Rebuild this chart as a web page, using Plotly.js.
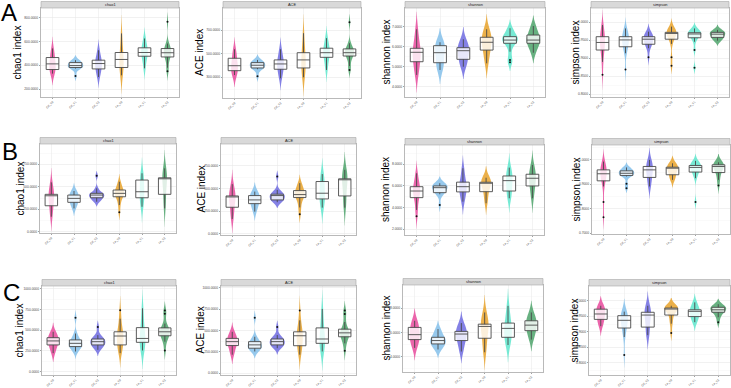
<!DOCTYPE html>
<html>
<head>
<meta charset="utf-8">
<script src="https://cdn.plot.ly/plotly-3.0.1.min.js"></script>
<style>
  html, body { margin: 0; padding: 0; background: #ffffff; }
  #chart { width: 731px; height: 388px; }
</style>
</head>
<body>
<div id="chart"></div>
<script>
// Treatment groups and their colours
const groups = ['CK_T0', 'CK_T1', 'CK_T2', 'FA_T0', 'FA_T1', 'FA_T2'];
const groupColors = ['#e84a9c', '#84bfea', '#6e6be0', '#e8a22a', '#5ee6cc', '#4da36b'];
const metrics = ['chao1', 'ACE', 'shannon', 'simpson'];
const rowLetters = ['A', 'B', 'C'];

// Alpha-diversity values per sample, one list per group (row A)
const chao1_A = [
  [331, 352, 365, 390, 412, 438, 465, 500, 541],
  [311, 373, 378, 382, 388, 394, 398, 405, 414, 423, 430, 437, 443],
  [303, 342, 370, 392, 415, 430, 443, 480, 526],
  [317, 350, 382, 415, 449, 478, 507, 585, 666],
  [375, 430, 476, 492, 507, 526, 546, 585, 624],
  [350, 380, 440, 470, 482, 495, 505, 515, 528, 540, 558, 582, 763]
];
const ACE_A = [
  [319, 338, 356, 378, 398, 430, 461, 500, 537],
  [308, 368, 374, 379, 386, 395, 402, 408, 416, 424, 432, 440, 447],
  [292, 330, 368, 390, 413, 430, 447, 490, 537],
  [300, 340, 379, 412, 447, 478, 508, 590, 673],
  [362, 415, 469, 490, 508, 526, 546, 590, 631],
  [362, 395, 450, 480, 490, 500, 508, 518, 530, 540, 555, 588, 766]
];
const shannon_A = [
  [4.59, 4.95, 5.25, 5.50, 5.72, 5.82, 5.92, 6.40, 6.87],
  [4.84, 5.00, 5.20, 5.45, 5.70, 5.90, 6.05, 6.15, 6.22],
  [5.00, 5.20, 5.37, 5.60, 5.80, 5.88, 5.95, 6.15, 6.37],
  [5.17, 5.50, 5.83, 6.05, 6.22, 6.35, 6.47, 6.65, 6.87],
  [5.22, 5.33, 5.75, 6.17, 6.22, 6.28, 6.33, 6.38, 6.44, 6.50, 6.62, 6.78, 6.92],
  [5.70, 5.95, 6.17, 6.25, 6.33, 6.45, 6.58, 6.80, 7.03]
];
const simpson_A = [
  [0.854, 0.890, 0.905, 0.923, 0.930, 0.938, 0.944, 0.950, 0.955, 0.960, 0.970, 0.982, 0.9925],
  [0.869, 0.914, 0.924, 0.932, 0.938, 0.945, 0.951, 0.955, 0.958, 0.960, 0.968, 0.976, 0.983],
  [0.903, 0.928, 0.934, 0.939, 0.944, 0.949, 0.953, 0.956, 0.958, 0.960, 0.965, 0.970, 0.974],
  [0.879, 0.903, 0.940, 0.953, 0.958, 0.964, 0.969, 0.970, 0.971, 0.972, 0.978, 0.983, 0.988],
  [0.874, 0.923, 0.946, 0.957, 0.961, 0.964, 0.9675, 0.969, 0.970, 0.971, 0.975, 0.979, 0.983],
  [0.949, 0.953, 0.958, 0.962, 0.967, 0.969, 0.972, 0.975, 0.979]
];

// Row B
const chao1_B = [
  [167, 230, 289, 350, 400, 408, 416, 480, 549],
  [260, 300, 327, 350, 371, 390, 408, 430, 453],
  [334, 350, 365, 378, 390, 400, 408, 415, 421, 427, 445, 483, 623],
  [216, 297, 350, 389, 400, 415, 427, 440, 452, 464, 490, 520, 556],
  [278, 330, 378, 410, 445, 510, 575, 610, 650],
  [260, 340, 416, 520, 594, 598, 600, 650, 705]
];
const ACE_B = [
  [163, 230, 292, 360, 410, 414, 417, 480, 547],
  [244, 290, 332, 352, 373, 398, 421, 445, 465],
  [348, 360, 368, 373, 390, 405, 421, 426, 431, 436, 455, 484, 631],
  [215, 290, 340, 399, 410, 420, 432, 445, 460, 476, 505, 530, 558],
  [288, 335, 384, 415, 447, 510, 576, 615, 658],
  [288, 350, 417, 520, 602, 604, 606, 660, 705]
];
const shannon_B = [
  [3.20, 3.78, 4.40, 4.92, 5.15, 5.35, 5.53, 5.70, 5.82, 5.93, 6.30, 6.75, 7.17],
  [4.24, 5.23, 5.30, 5.38, 5.55, 5.70, 5.84, 5.90, 5.95, 6.00, 6.10, 6.18, 6.25],
  [4.55, 5.00, 5.45, 5.70, 5.93, 6.15, 6.35, 7.00, 7.63],
  [4.40, 5.00, 5.47, 6.00, 6.30, 6.32, 6.34, 6.55, 6.76],
  [4.86, 5.20, 5.53, 6.00, 6.49, 6.70, 6.92, 7.30, 7.69],
  [4.86, 5.45, 6.00, 6.35, 6.71, 6.90, 7.08, 7.50, 7.94]
];
const simpson_B = [
  [0.765, 0.827, 0.891, 0.914, 0.925, 0.935, 0.943, 0.948, 0.954, 0.959, 0.970, 0.982, 0.993],
  [0.884, 0.902, 0.932, 0.936, 0.939, 0.942, 0.945, 0.948, 0.952, 0.955, 0.960, 0.965, 0.969],
  [0.891, 0.910, 0.928, 0.945, 0.959, 0.966, 0.973, 0.987, 1.000],
  [0.918, 0.930, 0.939, 0.955, 0.966, 0.968, 0.970, 0.978, 0.986],
  [0.827, 0.925, 0.940, 0.950, 0.957, 0.963, 0.969, 0.972, 0.975, 0.977, 0.983, 0.990, 0.996],
  [0.895, 0.918, 0.935, 0.948, 0.958, 0.966, 0.973, 0.975, 0.978, 0.980, 0.984, 0.987, 0.990]
];

// Row C
const chao1_C = [
  [224, 280, 323, 350, 371, 390, 410, 445, 481],
  [244, 270, 290, 303, 318, 330, 342, 352, 368, 383, 420, 460, 649],
  [264, 290, 310, 323, 335, 350, 362, 372, 385, 394, 415, 441, 540],
  [224, 270, 300, 323, 360, 400, 430, 450, 465, 481, 560, 638, 740],
  [256, 300, 354, 380, 401, 470, 531, 650, 764],
  [256, 362, 400, 433, 450, 468, 481, 495, 512, 528, 579, 697, 737]
];
const ACE_C = [
  [215, 270, 322, 345, 368, 388, 406, 445, 483],
  [253, 270, 282, 291, 305, 318, 330, 342, 355, 368, 395, 425, 647],
  [291, 305, 318, 330, 345, 358, 368, 380, 390, 399, 420, 445, 540],
  [215, 262, 295, 320, 370, 410, 437, 455, 470, 483, 550, 617, 732],
  [253, 300, 348, 375, 399, 460, 529, 640, 751],
  [261, 348, 390, 425, 440, 458, 471, 485, 500, 514, 598, 693, 732]
];
const shannon_C = [
  [4.71, 5.10, 5.40, 5.60, 5.81, 6.10, 6.41, 6.70, 6.96],
  [4.58, 4.85, 5.04, 5.20, 5.32, 5.45, 5.59, 5.95, 6.27],
  [4.41, 4.90, 5.32, 5.60, 5.86, 5.97, 6.08, 6.45, 6.77],
  [4.35, 4.90, 5.51, 6.20, 6.49, 6.58, 6.68, 7.20, 7.65],
  [4.95, 5.30, 5.59, 5.95, 6.33, 6.55, 6.77, 7.50, 8.20],
  [5.40, 5.80, 6.14, 6.40, 6.60, 6.80, 6.96, 7.30, 7.65]
];
const simpson_C = [
  [0.918, 0.930, 0.940, 0.950, 0.9575, 0.966, 0.973, 0.979, 0.984],
  [0.825, 0.883, 0.900, 0.912, 0.920, 0.930, 0.937, 0.942, 0.948, 0.952, 0.956, 0.961, 0.965],
  [0.889, 0.900, 0.915, 0.940, 0.954, 0.959, 0.963, 0.975, 0.984],
  [0.896, 0.926, 0.940, 0.954, 0.965, 0.972, 0.9756, 0.976, 0.9762, 0.9766, 0.979, 0.982, 0.984],
  [0.931, 0.940, 0.949, 0.958, 0.966, 0.969, 0.971, 0.985, 0.995],
  [0.931, 0.947, 0.955, 0.963, 0.966, 0.969, 0.971, 0.974, 0.977, 0.979, 0.983, 0.986, 0.989]
];

const panelData = [
  chao1_A, ACE_A, shannon_A, simpson_A,
  chao1_B, ACE_B, shannon_B, simpson_B,
  chao1_C, ACE_C, shannon_C, simpson_C
];

// ---- panel geometry (pixels in a 731 x 388 figure) ----
const W = 731, H = 388, STRIP = 6.5;
const panelX = [
  [41, 179], [223, 361], [405, 545], [591, 729],
  [40, 176], [221, 356], [405, 544], [592, 730],
  [42, 176], [221, 356], [403, 543], [589, 730]
];
const panelY = [
  [8, 97], [8, 98], [8, 97], [8, 97],
  [144, 233], [144, 235], [145, 235], [145, 234],
  [286, 375], [286, 375], [285, 372], [286, 375]
];
const yRanges = [
  [136, 878], [125, 886], [3.49, 7.93], [0.7925, 1.0397],
  [-14, 976], [-14, 990], [1.47, 9.78], [0.696, 1.061],
  [-39, 1032], [-23, 1020], [2.71, 9.93], [0.76, 1.048]
];
const yTick0 = [0, 100, 0, 0, 0, 0, 0, 0, 0, 0, 0, 0];
const yDtick = [200, 200, 1, 0.05, 250, 250, 2, 0.1, 250, 250, 2, 0.05];
const titleX = [17, 200, 386, 575, 20, 201, 385, 576, 19, 200, 386, 574];
const letterPos = [[9, 13], [10, 152], [11, 292]];

const FONT = 'Liberation Sans, Arial, sans-serif';
const traces = [];
const layout = {
  width: W, height: H,
  margin: { l: 0, r: 0, t: 0, b: 0 },
  paper_bgcolor: '#ffffff',
  plot_bgcolor: '#ffffff',
  showlegend: false,
  violinmode: 'overlay',
  boxmode: 'overlay',
  violingap: 0.04,
  font: { family: FONT, color: '#222' },
  shapes: [],
  annotations: []
};

panelData.forEach((groupSamples, p) => {
  const s = p === 0 ? '' : String(p + 1);
  const [px0, px1] = panelX[p];
  const [py0, py1] = panelY[p];

  groupSamples.forEach((vals, g) => {
    const xs = vals.map(() => groups[g]);
    traces.push({
      type: 'violin', x: xs, y: vals,
      xaxis: 'x' + s, yaxis: 'y' + s,
      fillcolor: groupColors[g], opacity: 0.85,
      line: { color: groupColors[g], width: 0 },
      points: false, box: { visible: false }, meanline: { visible: false },
      scalegroup: 'panel' + p, scalemode: 'width', spanmode: 'soft',
      hoverinfo: 'skip'
    });
    traces.push({
      type: 'box', x: xs, y: vals,
      xaxis: 'x' + s, yaxis: 'y' + s,
      width: 0.55, quartilemethod: 'inclusive',
      fillcolor: 'rgba(255,255,255,0.8)',
      line: { color: '#4a4a4a', width: 0.9 },
      whiskerwidth: 0,
      boxpoints: 'outliers', jitter: 0, pointpos: 0,
      marker: { color: '#111111', size: 2, line: { width: 0 } },
      hoverinfo: 'skip'
    });
  });

  layout['xaxis' + s] = {
    domain: [px0 / W, px1 / W], anchor: 'y' + s,
    type: 'category', categoryorder: 'array', categoryarray: groups,
    range: [-0.5, 5.5],
    showgrid: true, gridcolor: '#ebebeb', gridwidth: 0.6,
    showline: true, mirror: true, linecolor: '#a8a8a8', linewidth: 0.8,
    ticks: 'outside', ticklen: 1.5, tickwidth: 0.5, tickcolor: '#444',
    ticklabelstandoff: -1.5,
    tickangle: -45, tickfont: { size: 2.9, color: '#4d4d4d' },
    zeroline: false, fixedrange: true
  };
  layout['yaxis' + s] = {
    domain: [1 - py1 / H, 1 - py0 / H], anchor: 'x' + s,
    range: yRanges[p], tickmode: 'linear', tick0: yTick0[p], dtick: yDtick[p],
    tickformat: '.4f',
    showgrid: true, gridcolor: '#e8e8e8', gridwidth: 0.6,
    minor: { dtick: yDtick[p] / 2, showgrid: true, gridcolor: '#f5f5f5', gridwidth: 0.5 },
    showline: true, mirror: true, linecolor: '#a8a8a8', linewidth: 0.8,
    ticks: 'outside', ticklen: 1.5, tickwidth: 0.5, tickcolor: '#444',
    tickfont: { size: 3.3, color: '#4d4d4d' },
    zeroline: false, fixedrange: true
  };

  // facet strip with metric name
  layout.shapes.push({
    type: 'rect', xref: 'paper', yref: 'paper',
    x0: px0 / W, x1: px1 / W,
    y0: 1 - py0 / H, y1: 1 - (py0 - STRIP) / H,
    fillcolor: '#d9d9d9', line: { color: '#a8a8a8', width: 0.6 }
  });
  const metric = metrics[p % 4];
  layout.annotations.push({
    xref: 'paper', yref: 'paper',
    x: (px0 + px1) / 2 / W, y: 1 - (py0 - STRIP / 2) / H,
    xanchor: 'center', yanchor: 'middle', showarrow: false,
    text: metric, font: { size: 3.9, color: '#1a1a1a', family: FONT }
  });
  // y-axis title
  layout.annotations.push({
    xref: 'paper', yref: 'paper',
    x: titleX[p] / W, y: 1 - (py0 + py1) / 2 / H,
    xanchor: 'center', yanchor: 'middle', showarrow: false,
    textangle: -90,
    text: metric + ' index', font: { size: 10, color: '#000', family: FONT }
  });
});

// row letters
rowLetters.forEach((t, r) => {
  layout.annotations.push({
    xref: 'paper', yref: 'paper',
    x: letterPos[r][0] / W, y: 1 - letterPos[r][1] / H,
    xanchor: 'center', yanchor: 'middle', showarrow: false,
    text: t, font: { size: 24, color: '#000', family: FONT }
  });
});

Plotly.newPlot('chart', traces, layout, { staticPlot: true, displayModeBar: false });
</script>
</body>
</html>
